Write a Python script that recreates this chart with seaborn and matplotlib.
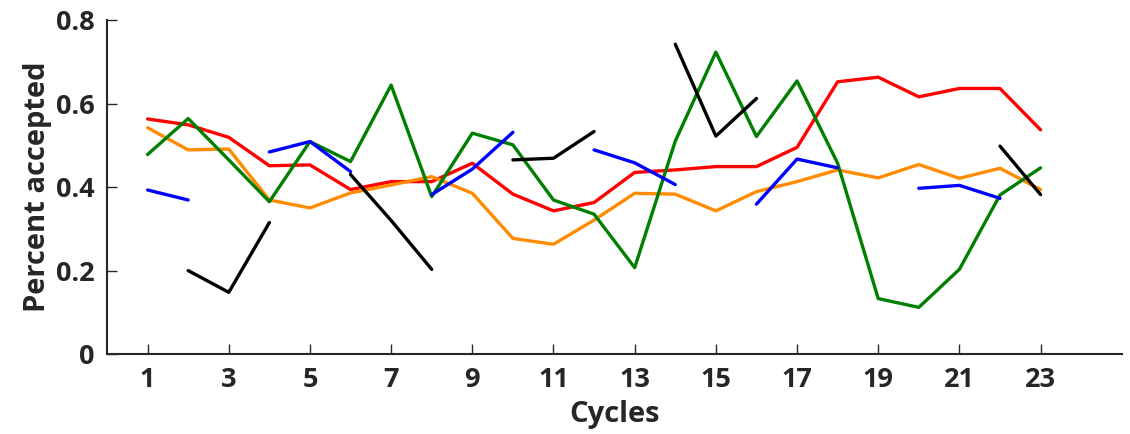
import numpy as np
import pandas as pd
import matplotlib
matplotlib.use("Agg")
import matplotlib.pyplot as plt
import seaborn as sns

nan = np.nan
cycles = list(range(1, 24))
red = [0.563, 0.549, 0.519, 0.451, 0.453, 0.394, 0.413, 0.413, 0.457, 0.383, 0.343, 0.363,
       0.435, 0.441, 0.449, 0.449, 0.495, 0.652, 0.663, 0.616, 0.636, 0.636, 0.537]
orange = [0.542, 0.489, 0.491, 0.369, 0.350, 0.386, 0.405, 0.425, 0.385, 0.277, 0.263, 0.321,
          0.385, 0.383, 0.343, 0.389, 0.413, 0.441, 0.422, 0.454, 0.421, 0.445, 0.394]
green = [0.478, 0.564, 0.465, 0.365, 0.509, 0.461, 0.644, 0.377, 0.529, 0.501, 0.369, 0.335,
         0.207, 0.510, 0.723, 0.521, 0.654, 0.457, 0.133, 0.112, 0.203, 0.381, 0.446]
blue = [0.393, 0.369, nan, 0.484, 0.509, 0.437, nan, 0.382, 0.443, 0.531, nan, 0.489,
        0.458, 0.406, nan, 0.359, 0.467, 0.446, nan, 0.397, 0.404, 0.373, nan]
black = [nan, 0.200, 0.148, 0.315, nan, 0.430, 0.320, 0.203, nan, 0.465, 0.469, 0.533,
         nan, 0.742, 0.522, 0.612, nan, nan, nan, nan, nan, 0.498, 0.382]

series = {"red": red, "orange": orange, "green": green, "blue": blue, "black": black}
colors = {"red": "#ff0000", "orange": "#ff8c00", "green": "#007f00", "blue": "#0000ff", "black": "#000000"}

rows = []
for name, vals in series.items():
    seg = 0
    prev_nan = True
    for c, v in zip(cycles, vals):
        if np.isnan(v):
            prev_nan = True
            continue
        if prev_nan:
            seg += 1
            prev_nan = False
        rows.append({"cycle": c, "value": v, "series": name, "seg": f"{name}{seg}"})
df = pd.DataFrame(rows)

sns.set_style("white")
plt.rcParams['font.family'] = ['Open Sans', 'DejaVu Sans']

fig = plt.figure(figsize=(11.3, 4.34), dpi=100)
ax = fig.add_axes([0.0947, 0.184, 0.898, 0.77])

sns.lineplot(data=df, x="cycle", y="value", hue="series", units="seg", estimator=None,
             palette=colors, hue_order=list(series.keys()), linewidth=2.4, legend=False, ax=ax)

ax.set_xlim(0, 25)
ax.set_ylim(0, 0.8)
ax.set_xticks(list(range(1, 24, 2)))
ax.set_xticklabels([str(i) for i in range(1, 24, 2)])
ax.set_yticks([0, 0.2, 0.4, 0.6, 0.8])
ax.set_yticklabels(["0", "0.2", "0.4", "0.6", "0.8"])
for s in ["top", "right"]:
    ax.spines[s].set_visible(False)
for s in ["left", "bottom"]:
    ax.spines[s].set_color("#262626")
    ax.spines[s].set_linewidth(1.5)
ax.tick_params(bottom=True, left=True, direction="in", length=7, width=1, color="#262626",
               labelsize=19.5, labelcolor="#262626", pad=9)
for lab in ax.get_xticklabels() + ax.get_yticklabels():
    lab.set_fontweight("bold")
ax.set_xlabel("Cycles", fontsize=21, fontweight="bold", color="#262626", labelpad=5)
ax.set_ylabel("Percent accepted", fontsize=21, fontweight="bold", color="#262626", labelpad=3)

fig.savefig("out.png", dpi=100)
